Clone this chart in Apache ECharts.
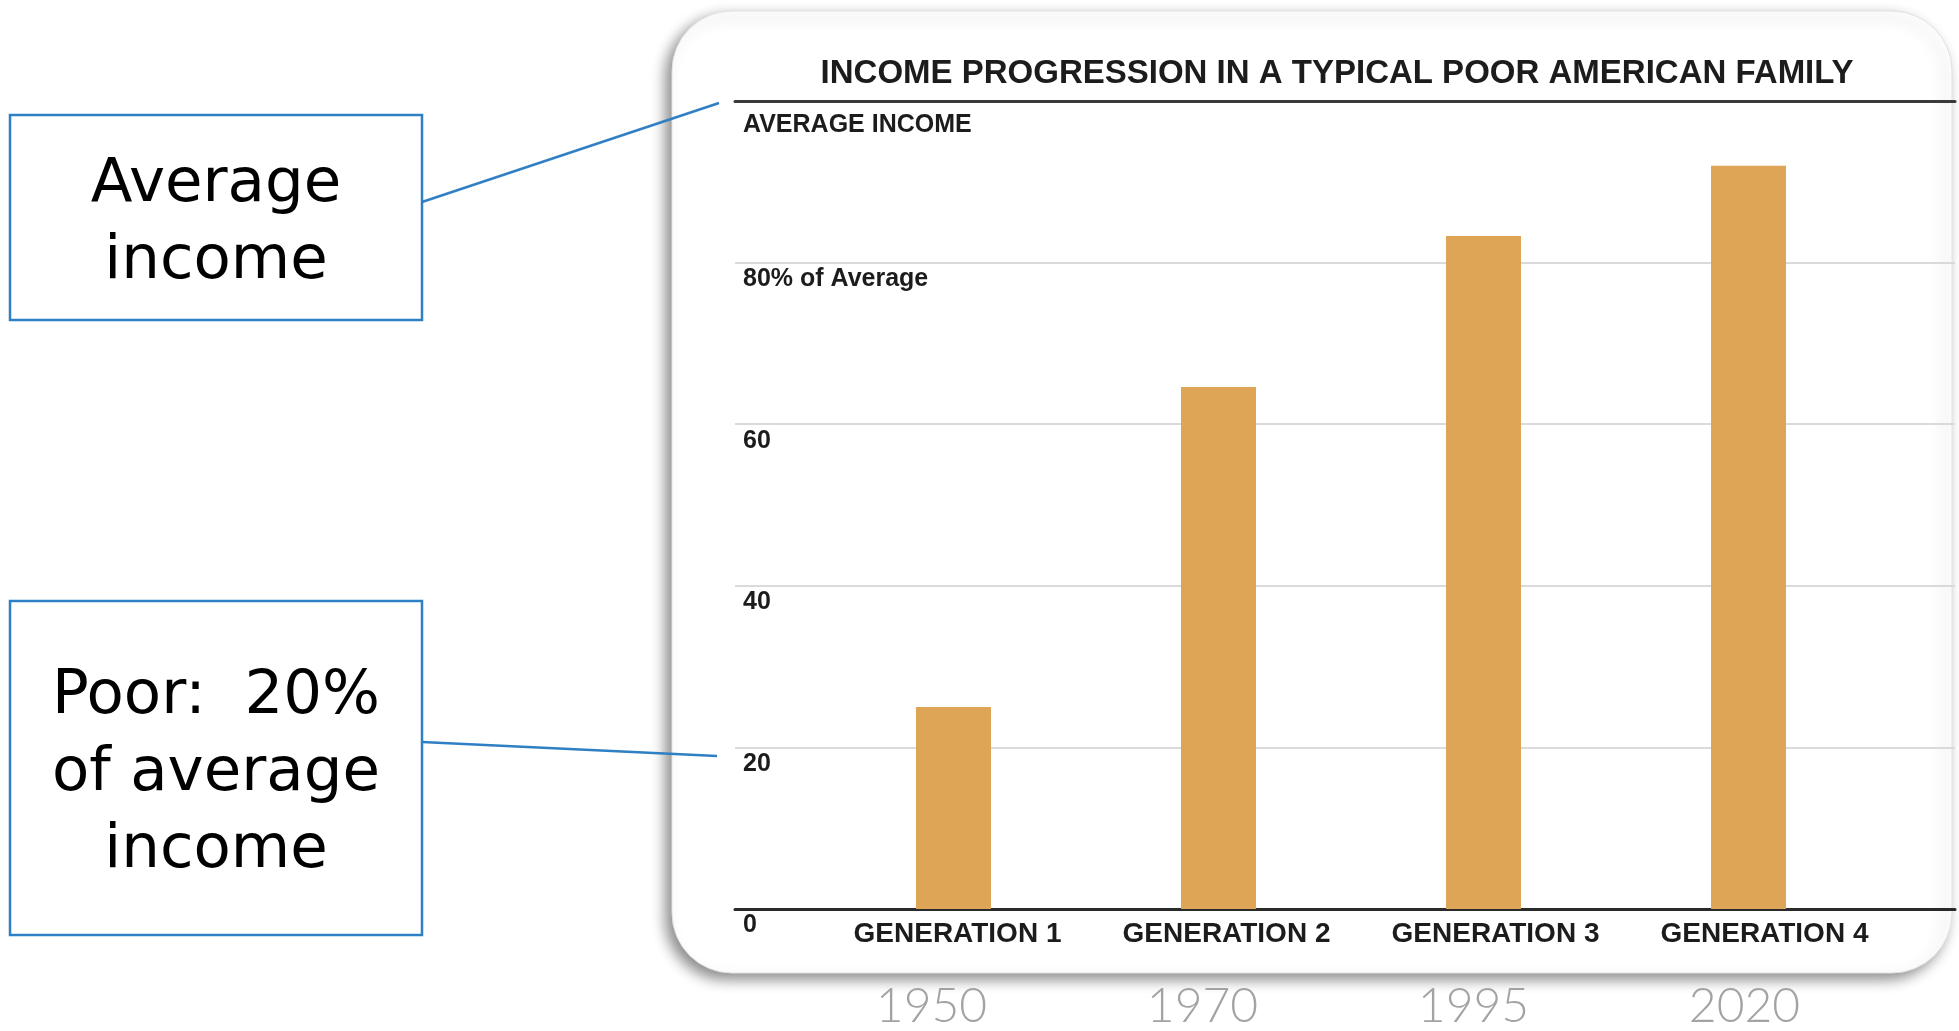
<!DOCTYPE html>
<html>
<head>
<meta charset="utf-8">
<title>Income progression</title>
<script src="https://cdn.jsdelivr.net/npm/echarts@6/dist/echarts.min.js"></script>
<style>
  html, body { margin: 0; padding: 0; background: #fff; }
  #chart { width: 1959px; height: 1031px; }
</style>
</head>
<body>
<div id="chart"></div>
<script>
// chart data
const generations = ['GENERATION 1', 'GENERATION 2', 'GENERATION 3', 'GENERATION 4'];
const years = ['1950', '1970', '1995', '2020'];
const incomeShare = [25, 64.6, 83.3, 92];
const tickLabels = { 0: '0', 20: '20', 40: '40', 60: '60', 80: '80% of Average', 100: 'AVERAGE INCOME' };
const titleText = 'INCOME PROGRESSION IN A TYPICAL POOR AMERICAN FAMILY';
const noteAverage = 'Average\nincome';
const notePoor = 'Poor:  20%\nof average\nincome';

const BAR = '#dfa556';
const BLUE = '#2e7fc3';
const INK = '#1c1c1c';
const HEAVY = '"Liberation Sans", Arial, sans-serif';

const chart = echarts.init(document.getElementById('chart'));

const gridTop = 101;
const gridBottom = 122;

// hidden helper axis config
const hiddenY = (idx) => ({
  type: 'value', gridIndex: idx, min: 0, max: 100, interval: 20,
  show: false
});

chart.setOption({
  backgroundColor: '#ffffff',
  animation: false,
  title: {
    text: titleText,
    left: 1332,
    top: 52,
    textAlign: 'center',
    textStyle: { fontFamily: HEAVY, fontWeight: 'bold', fontSize: 33, color: INK }
  },
  grid: [
    // wide grid: gridlines, top rule, base line, y labels
    { left: 735, right: 4, top: gridTop, bottom: gridBottom },
    // bars
    { left: 821, width: 1060, top: gridTop, bottom: gridBottom },
    // generation labels
    { left: 823, width: 1076, top: gridTop, bottom: gridBottom },
    // year labels
    { left: 796, width: 1084, top: gridTop, bottom: gridBottom }
  ],
  xAxis: [
    {
      type: 'category', gridIndex: 0, data: generations, position: 'bottom',
      axisLine: { lineStyle: { color: '#2a2a2a', width: 3 } },
      axisTick: { show: false }, axisLabel: { show: false }, splitLine: { show: false }
    },
    {
      type: 'category', gridIndex: 0, data: generations, position: 'top',
      axisLine: { lineStyle: { color: '#3a3a3a', width: 3 } },
      axisTick: { show: false }, axisLabel: { show: false }, splitLine: { show: false }
    },
    {
      type: 'category', gridIndex: 1, data: generations,
      axisLine: { show: false }, axisTick: { show: false }, axisLabel: { show: false }
    },
    {
      type: 'category', gridIndex: 2, data: generations,
      axisLine: { show: false }, axisTick: { show: false },
      axisLabel: {
        interval: 0, margin: 11, color: INK, fontFamily: HEAVY, fontWeight: 'bold', fontSize: 28
      }
    },
    {
      type: 'category', gridIndex: 3, data: years, offset: 0,
      axisLine: { show: false }, axisTick: { show: false },
      axisLabel: {
        interval: 0, margin: 84, color: '#a3a3a3', fontFamily: 'Lato, "Open Sans", sans-serif',
        fontWeight: 300, fontSize: 48
      }
    }
  ],
  yAxis: [
    {
      type: 'value', gridIndex: 0, min: 0, max: 100, interval: 20,
      axisLine: { show: false }, axisTick: { show: false },
      splitLine: { lineStyle: { color: '#dadada', width: 2 } },
      axisLabel: {
        inside: true, margin: 8, verticalAlign: 'top', align: 'left',
        padding: [4, 0, 0, 0],
        formatter: (v) => {
          const t = tickLabels[v];
          if (v === 100) return '{cap|' + t + '}';
          if (v === 80) return '{mix|' + t + '}';
          return '{num|' + t + '}';
        },
        rich: {
          cap: { fontFamily: HEAVY, fontWeight: 'bold', fontSize: 25, color: INK, padding: [8, 0, 0, 0] },
          mix: { fontFamily: HEAVY, fontWeight: 'bold', fontSize: 25, color: INK },
          num: { fontFamily: HEAVY, fontWeight: 'bold', fontSize: 25, color: INK }
        }
      }
    },
    hiddenY(1),
    hiddenY(2),
    hiddenY(3)
  ],
  series: [
    {
      type: 'bar',
      xAxisIndex: 2,
      yAxisIndex: 1,
      data: incomeShare,
      barWidth: 75,
      itemStyle: { color: BAR },
      z: 3
    }
  ],
  graphic: [
    {
      type: 'rect', z: -5,
      shape: { x: 672, y: 11, width: 1280, height: 962, r: 60 },
      style: {
        fill: '#ffffff', stroke: '#e2e2e2', lineWidth: 1,
        shadowBlur: 14, shadowOffsetX: -6, shadowOffsetY: 6, shadowColor: 'rgba(0,0,0,0.45)'
      }
    },
    {
      type: 'rect', z: 5,
      shape: { x: 10, y: 115, width: 412, height: 205 },
      style: { fill: '#ffffff', stroke: BLUE, lineWidth: 2.5 }
    },
    {
      type: 'rect', z: 5,
      shape: { x: 10, y: 601, width: 412, height: 334 },
      style: { fill: '#ffffff', stroke: BLUE, lineWidth: 2.5 }
    },
    {
      type: 'text', z: 6, x: 216, y: 224,
      style: {
        text: noteAverage, fill: '#000', font: '61px "DejaVu Sans", sans-serif',
        align: 'center', verticalAlign: 'middle', lineHeight: 77
      }
    },
    {
      type: 'text', z: 6, x: 216, y: 774,
      style: {
        text: notePoor, fill: '#000', font: '61px "DejaVu Sans", sans-serif',
        align: 'center', verticalAlign: 'middle', lineHeight: 77
      }
    },
    {
      type: 'line', z: 6,
      shape: { x1: 422, y1: 202, x2: 719, y2: 103 },
      style: { stroke: BLUE, lineWidth: 2.5 }
    },
    {
      type: 'line', z: 6,
      shape: { x1: 422, y1: 742, x2: 717, y2: 756 },
      style: { stroke: BLUE, lineWidth: 2.5 }
    }
  ]
});
</script>
</body>
</html>
